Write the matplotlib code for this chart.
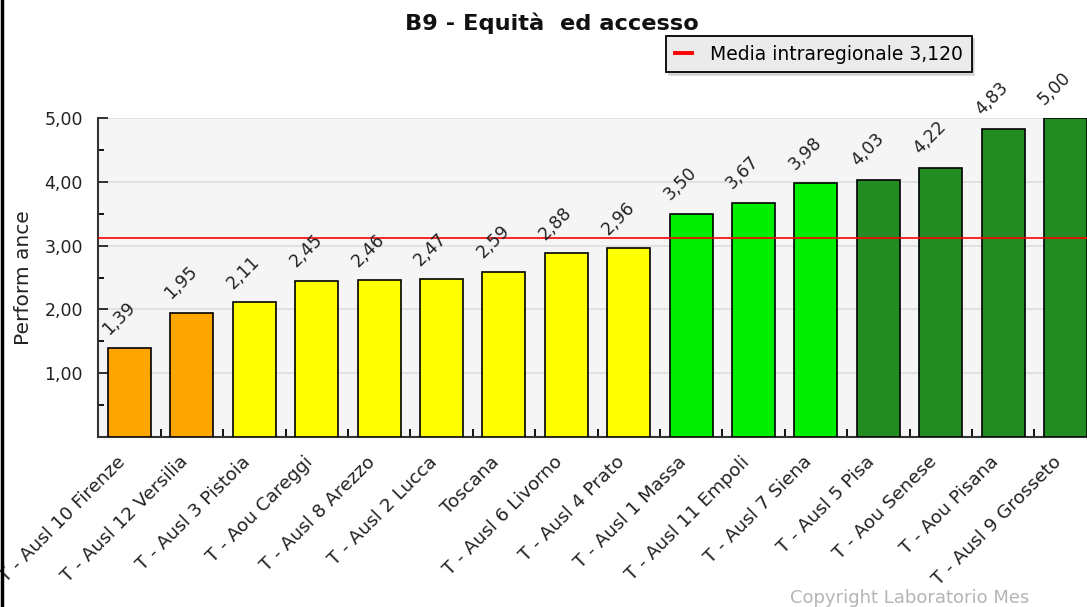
import numpy as np
import matplotlib
matplotlib.use("Agg")
import matplotlib.pyplot as plt
import matplotlib.transforms as mtransforms
from matplotlib.lines import Line2D
from matplotlib.ticker import FixedLocator, FuncFormatter

# dati
aziende = ["T - Ausl 10 Firenze", "T - Ausl 12 Versilia", "T - Ausl 3 Pistoia",
           "T - Aou Careggi", "T - Ausl 8 Arezzo", "T - Ausl 2 Lucca", "Toscana",
           "T - Ausl 6 Livorno", "T - Ausl 4 Prato", "T - Ausl 1 Massa",
           "T - Ausl 11 Empoli", "T - Ausl 7 Siena", "T - Ausl 5 Pisa",
           "T - Aou Senese", "T - Aou Pisana", "T - Ausl 9 Grosseto"]
valori = [1.39, 1.95, 2.11, 2.45, 2.46, 2.47, 2.59, 2.88, 2.96,
          3.50, 3.67, 3.98, 4.03, 4.22, 4.83, 5.00]
fasce = ["orange"] * 2 + ["yellow"] * 7 + ["lime"] * 3 + ["dkgreen"] * 4
media = 3.120

colori = {"orange": "#ffa500", "yellow": "#ffff00", "lime": "#00ee00", "dkgreen": "#228b22"}

W, H = 1087, 607
fig = plt.figure(figsize=(W / 100, H / 100), dpi=100)
fig.patch.set_facecolor("white")

# area del grafico (in pixel)
left, right, top, bottom = 98.3, 1096.7, 118, 437
ax = fig.add_axes([left / W, 1 - bottom / H, (right - left) / W, (bottom - top) / H])
ax.set_facecolor("#f5f5f5")

x = np.arange(len(valori))
ax.bar(x, valori, width=0.69, color=[colori[f] for f in fasce],
       edgecolor="black", linewidth=1.2, zorder=3)

ax.axhline(media, color="#ff0000", linewidth=1.2, zorder=4)

for xi, v in zip(x, valori):
    ax.annotate(("%.2f" % v).replace(".", ","), (xi, v), xytext=(-18, 10),
                textcoords="offset pixels", rotation=45, rotation_mode="anchor",
                ha="left", va="bottom", fontsize=12.5, color="#222222", zorder=5,
                annotation_clip=False)

ax.set_xlim(-0.5, len(valori) - 0.5)
ax.set_ylim(0, 5)

ax.yaxis.set_major_locator(FixedLocator([1, 2, 3, 4, 5]))
ax.yaxis.set_minor_locator(FixedLocator([0.5, 1.5, 2.5, 3.5, 4.5]))
ax.yaxis.set_major_formatter(FuncFormatter(lambda v, p: ("%.2f" % v).replace(".", ",")))
ax.tick_params(axis="y", which="major", direction="in", length=7.5, width=1.3,
               labelsize=12.5, pad=11, colors="#222222")
ax.tick_params(axis="y", which="minor", direction="in", length=4.5, width=1.3)
ax.grid(axis="y", which="major", color="#dddddd", linewidth=1.2, zorder=0)

# tick tra le barre, etichette al centro
ax.xaxis.set_minor_locator(FixedLocator(np.arange(0.5, len(valori) - 0.5, 1)))
ax.set_xticks(x)
ax.set_xticklabels(aziende, rotation=45, ha="right", va="center", rotation_mode="anchor",
                   fontsize=13.3, color="#222222")
ax.tick_params(axis="x", which="major", length=0, pad=16)
ax.tick_params(axis="x", which="minor", direction="in", length=6, width=1.3)
sposta = mtransforms.ScaledTranslation(-7 / 100, 0, fig.dpi_scale_trans)
for lab in ax.get_xticklabels():
    lab.set_transform(lab.get_transform() + sposta)

for s in ["top", "right"]:
    ax.spines[s].set_visible(False)
for s in ["left", "bottom"]:
    ax.spines[s].set_linewidth(1.5)
    ax.spines[s].set_color("#333333")

ax.set_ylabel("Perform ance", fontsize=14.5, color="#222222", labelpad=8)

fig.text(552 / W, 1 - 23 / H, "B9 - Equità  ed accesso", ha="center", va="center",
         fontsize=16.2, fontweight="bold", color="#111111")

h = [Line2D([], [], color="#ff0000", linewidth=2.8)]
leg = fig.legend(h, ["Media intraregionale 3,120"], loc="center",
                 bbox_to_anchor=(819 / W, 1 - 54 / H), fontsize=13.5,
                 frameon=True, fancybox=False, shadow={"color": "#bbbbbb"},
                 facecolor="#ebebeb", edgecolor="black", framealpha=1,
                 handlelength=0.9, borderpad=0.45, handletextpad=1.0,
                 borderaxespad=0)
leg.get_frame().set_linewidth(1.3)

fig.text(910 / W, 1 - 598 / H, "Copyright Laboratorio Mes", ha="center", va="center",
         fontsize=13, color="#b5b5b5")

# bordo sinistro dell'immagine
fig.add_artist(Line2D([1.5 / W, 1.5 / W], [0, 1], color="black", linewidth=2.5))

fig.savefig("out.png", dpi=100)
